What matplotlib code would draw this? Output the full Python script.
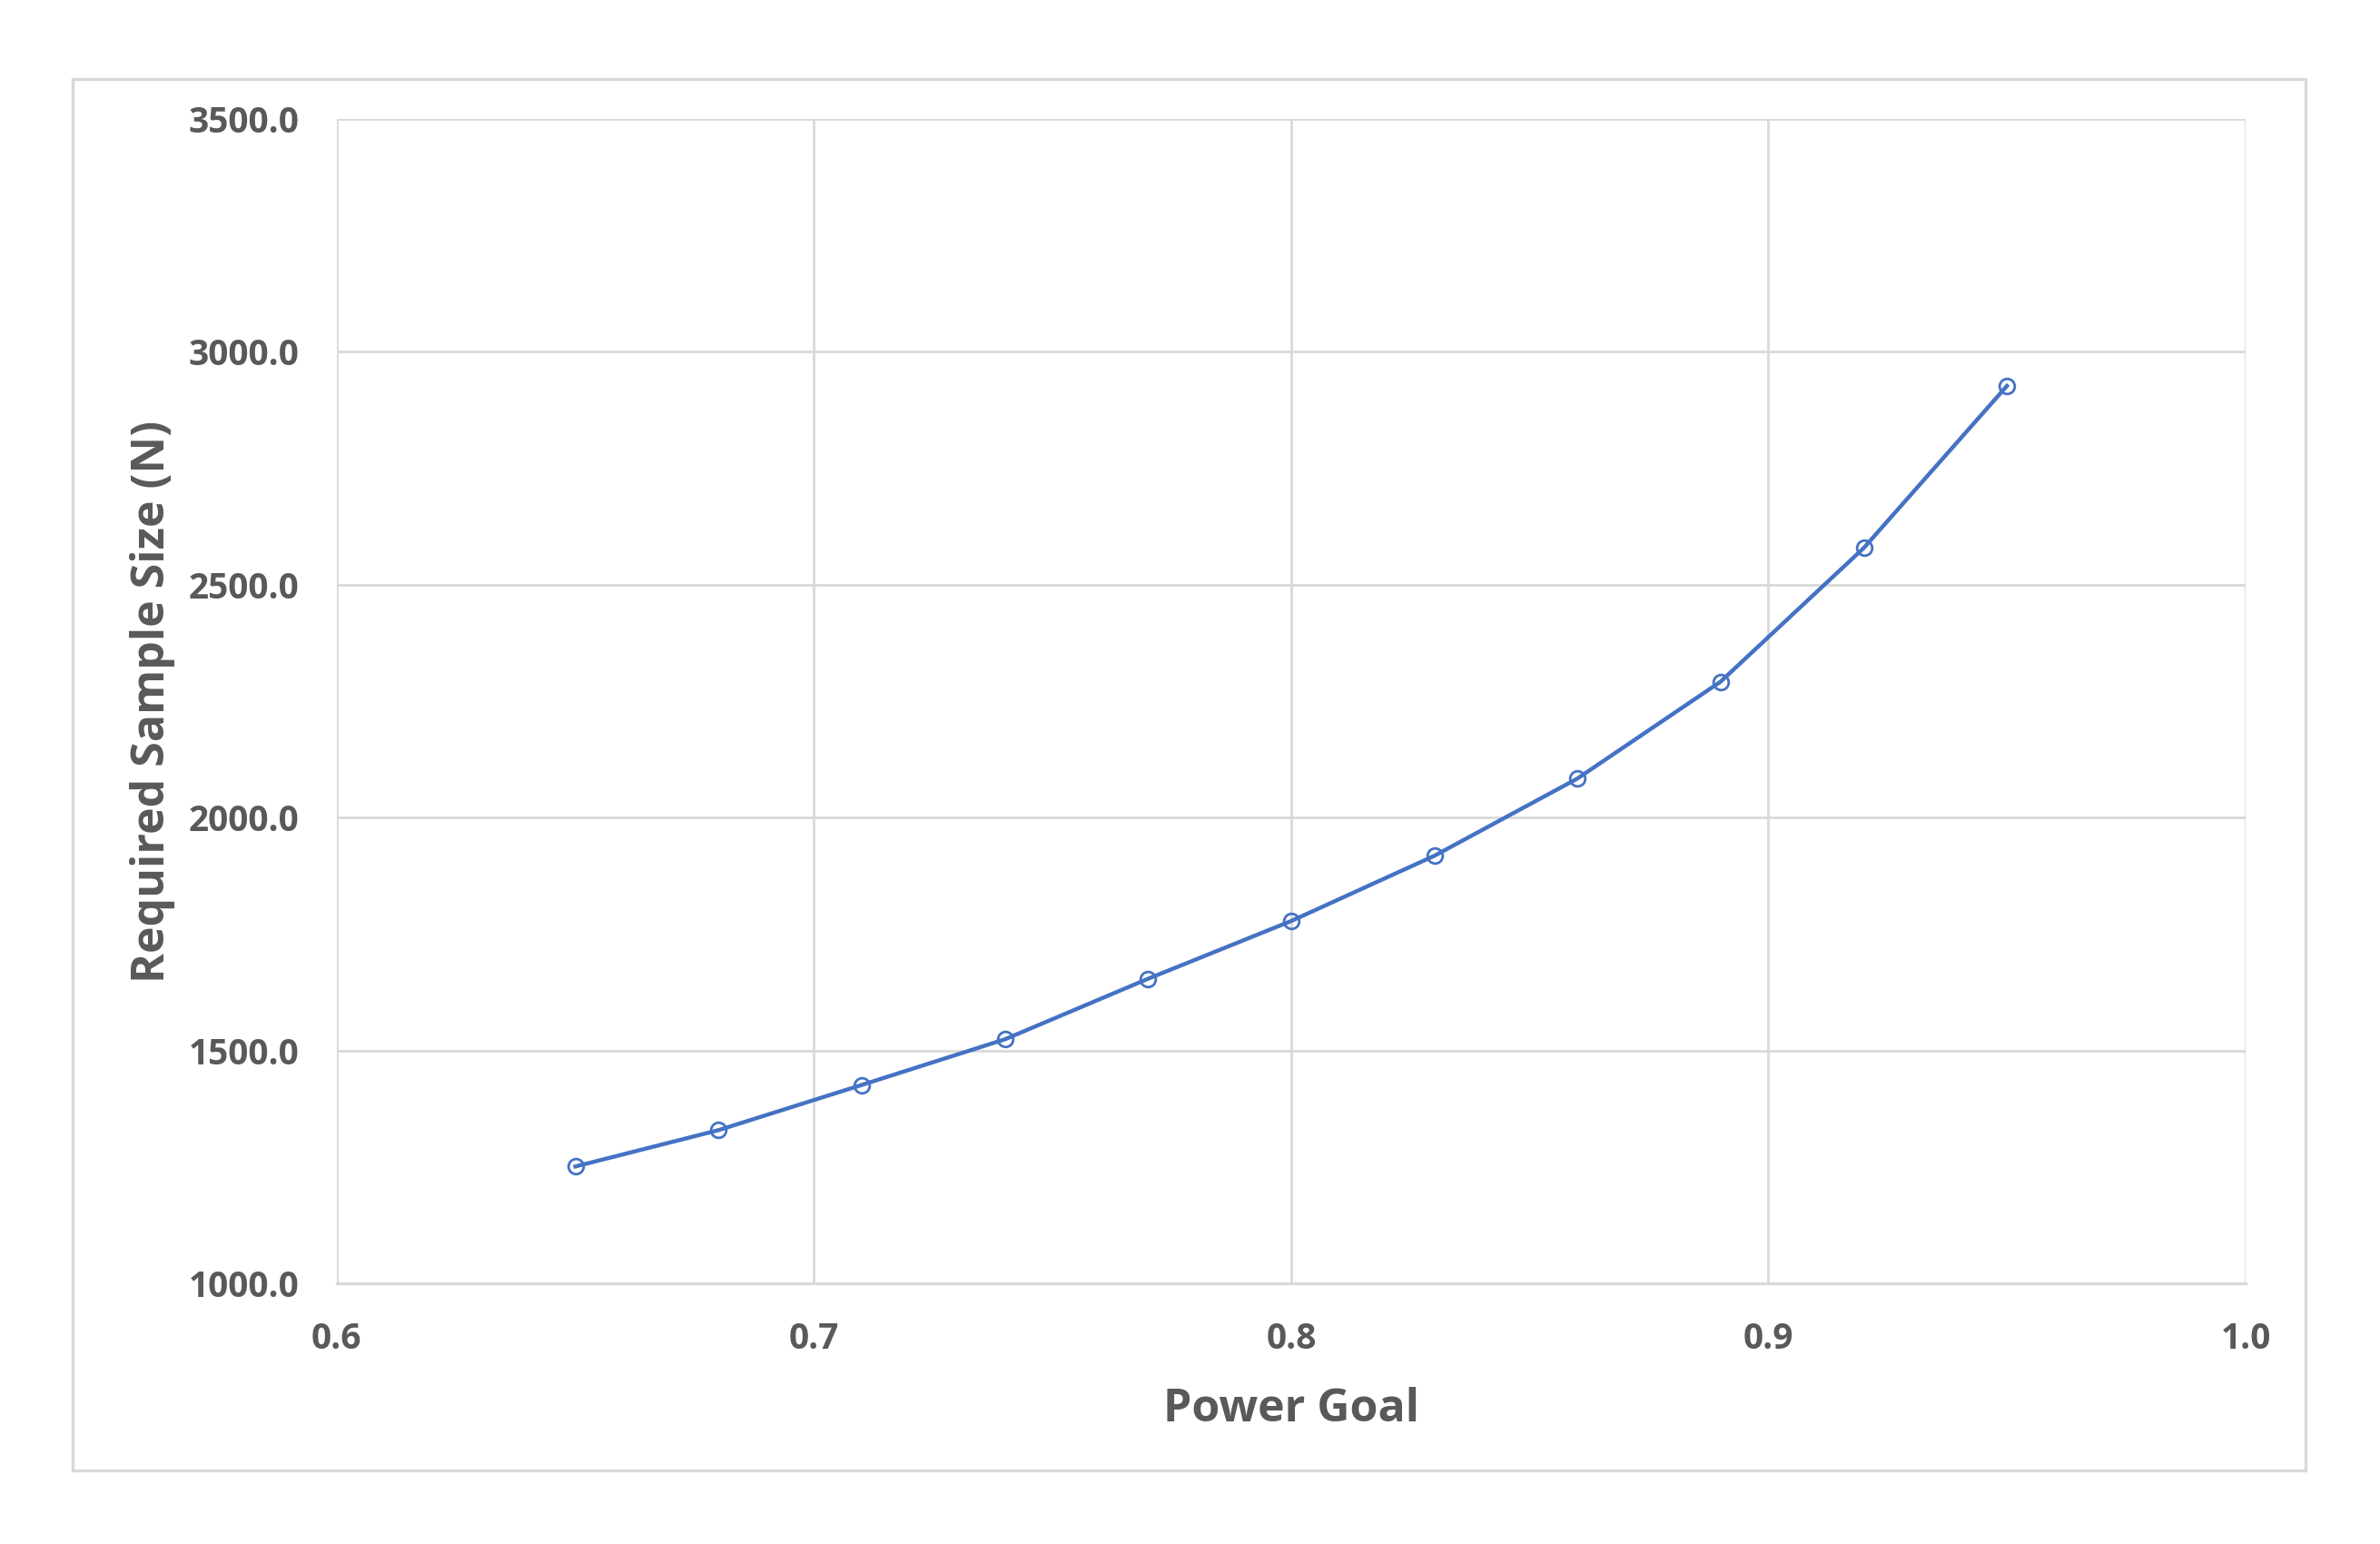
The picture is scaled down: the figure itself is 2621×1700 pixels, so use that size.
import matplotlib.pyplot as plt
from matplotlib.patches import Rectangle

plt.rcParams["font.family"] = ["Open Sans", "DejaVu Sans"]

power_goal = [0.65, 0.68, 0.71, 0.74, 0.77, 0.80, 0.83, 0.86, 0.89, 0.92, 0.95]
sample_size = [1251, 1329, 1426, 1524, 1654, 1778, 1918, 2084, 2292, 2579, 2927]
x_ticks = [0.6, 0.7, 0.8, 0.9, 1.0]
y_ticks = [1000, 1500, 2000, 2500, 3000, 3500]

text_color = "#595959"
grid_color = "#d9d9d9"
line_color = "#4472C4"

fig = plt.figure(figsize=(13.105, 8.5), dpi=200)
ax = fig.add_axes([0.1415, 0.1688, 0.802, 0.7541])

# outer chart border
fig.patches.append(Rectangle((0.0305, 0.0476), 0.9382, 0.9012, transform=fig.transFigure,
                             fill=False, edgecolor=grid_color, linewidth=1.2))

ax.plot(power_goal, sample_size, color=line_color, linewidth=1.6,
        marker="o", markersize=6, markerfacecolor="none",
        markeredgecolor=line_color, markeredgewidth=1.0)

ax.set_xlim(0.6, 1.0)
ax.set_ylim(1000, 3500)
ax.set_xticks(x_ticks)
ax.set_yticks(y_ticks)
ax.set_xticklabels([f"{v:.1f}" for v in x_ticks])
ax.set_yticklabels([f"{v:.1f}" for v in y_ticks])

ax.grid(True, color=grid_color, linewidth=1.0)
ax.set_axisbelow(True)
for side in ["top", "right", "left"]:
    ax.spines[side].set_visible(False)
ax.spines["bottom"].set_color(grid_color)
ax.spines["bottom"].set_linewidth(1.2)

ax.tick_params(axis="both", length=0, labelsize=14, labelcolor=text_color, pad=15)
for lbl in ax.get_xticklabels() + ax.get_yticklabels():
    lbl.set_fontweight("bold")

ax.set_xlabel("Power Goal", fontsize=18, fontweight="bold", color=text_color, labelpad=12)
ax.set_ylabel("Required Sample Size (N)", fontsize=18, fontweight="bold", color=text_color, labelpad=5)

fig.savefig("out.png", dpi=200, facecolor="white")
